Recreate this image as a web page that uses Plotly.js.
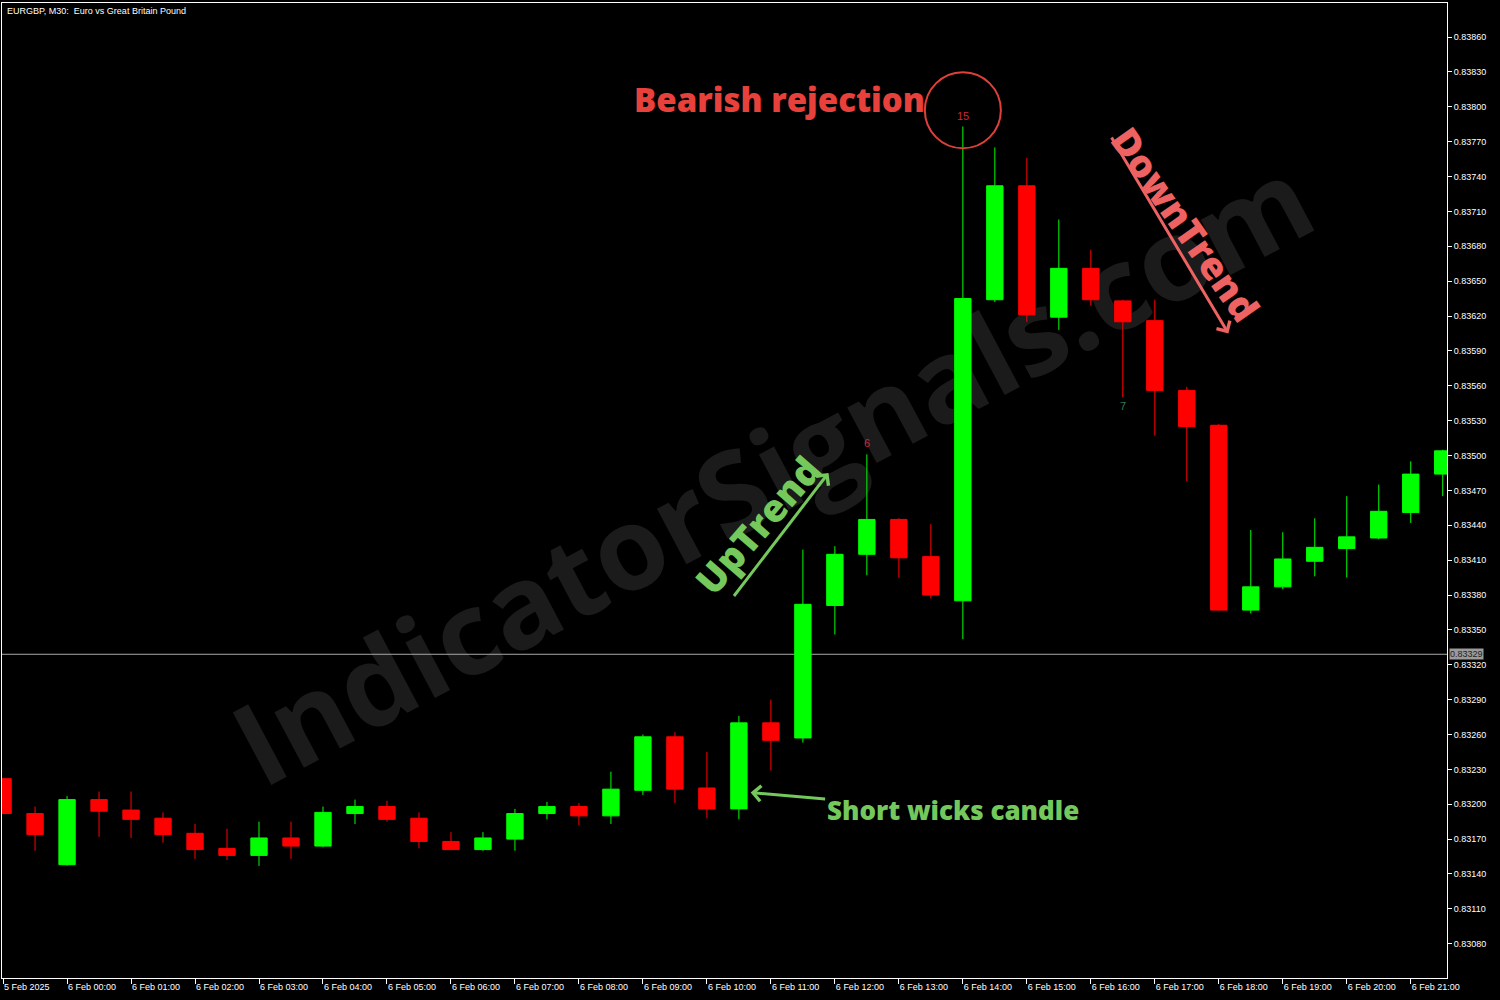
<!DOCTYPE html>
<html><head><meta charset="utf-8">
<script src="https://cdn.plot.ly/plotly-3.0.1.min.js"></script>
<style>html,body{margin:0;padding:0;background:#000;}#chart{width:1500px;height:1000px;}</style>
</head><body><div id="chart"></div>
<script>
const times = ['2025-02-05 23:00','2025-02-05 23:30',
 '2025-02-06 00:00','2025-02-06 00:30','2025-02-06 01:00','2025-02-06 01:30',
 '2025-02-06 02:00','2025-02-06 02:30','2025-02-06 03:00','2025-02-06 03:30',
 '2025-02-06 04:00','2025-02-06 04:30','2025-02-06 05:00','2025-02-06 05:30',
 '2025-02-06 06:00','2025-02-06 06:30','2025-02-06 07:00','2025-02-06 07:30',
 '2025-02-06 08:00','2025-02-06 08:30','2025-02-06 09:00','2025-02-06 09:30',
 '2025-02-06 10:00','2025-02-06 10:30','2025-02-06 11:00','2025-02-06 11:30',
 '2025-02-06 12:00','2025-02-06 12:30','2025-02-06 13:00','2025-02-06 13:30',
 '2025-02-06 14:00','2025-02-06 14:30','2025-02-06 15:00','2025-02-06 15:30',
 '2025-02-06 16:00','2025-02-06 16:30','2025-02-06 17:00','2025-02-06 17:30',
 '2025-02-06 18:00','2025-02-06 18:30','2025-02-06 19:00','2025-02-06 19:30',
 '2025-02-06 20:00','2025-02-06 20:30','2025-02-06 21:00','2025-02-06 21:30'];
const openP  = [0.83222,0.83192,0.83148,0.83204,0.83195,0.83188,0.83175,0.83162,0.83156,0.83171,
 0.83164,0.83192,0.83198,0.83188,0.83168,0.83161,0.83170,0.83192,0.83198,0.83190,
 0.83212,0.83258,0.83214,0.83196,0.83270,0.83257,0.83371,0.83415,0.83445,0.83413,
 0.83375,0.83634,0.83732,0.83619,0.83661,0.83633,0.83616,0.83556,0.83526,0.83367,
 0.83387,0.83409,0.83420,0.83429,0.83451,0.83484];
const highP  = [0.83222,0.83198,0.83207,0.83211,0.83211,0.83193,0.83183,0.83179,0.83185,0.83185,
 0.83198,0.83204,0.83203,0.83193,0.83176,0.83176,0.83196,0.83202,0.83201,0.83228,
 0.83260,0.83262,0.83245,0.83276,0.83290,0.83419,0.83422,0.83501,0.83446,0.83441,
 0.83783,0.83765,0.83756,0.83703,0.83677,0.83634,0.83634,0.83559,0.83527,0.83436,
 0.83434,0.83446,0.83465,0.83475,0.83495,0.83505];
const lowP   = [0.83192,0.83160,0.83147,0.83172,0.83171,0.83167,0.83153,0.83152,0.83147,0.83153,
 0.83163,0.83183,0.83185,0.83162,0.83161,0.83160,0.83160,0.83187,0.83182,0.83183,
 0.83208,0.83201,0.83188,0.83187,0.83229,0.83253,0.83346,0.83397,0.83395,0.83377,
 0.83342,0.83632,0.83615,0.83608,0.83629,0.83550,0.83517,0.83478,0.83367,0.83364,
 0.83385,0.83396,0.83395,0.83428,0.83442,0.83465];
const closeP = [0.83192,0.83174,0.83204,0.83194,0.83187,0.83174,0.83161,0.83156,0.83171,0.83164,
 0.83193,0.83198,0.83187,0.83168,0.83161,0.83171,0.83192,0.83198,0.83190,0.83213,
 0.83258,0.83213,0.83196,0.83270,0.83255,0.83372,0.83415,0.83445,0.83412,0.83380,
 0.83635,0.83732,0.83621,0.83661,0.83634,0.83615,0.83556,0.83525,0.83367,0.83387,
 0.83411,0.83421,0.83430,0.83452,0.83484,0.83504];
const tickTimes = ['2025-02-05 23:00','2025-02-06 00:00','2025-02-06 01:00','2025-02-06 02:00',
 '2025-02-06 03:00','2025-02-06 04:00','2025-02-06 05:00','2025-02-06 06:00','2025-02-06 07:00',
 '2025-02-06 08:00','2025-02-06 09:00','2025-02-06 10:00','2025-02-06 11:00','2025-02-06 12:00',
 '2025-02-06 13:00','2025-02-06 14:00','2025-02-06 15:00','2025-02-06 16:00','2025-02-06 17:00',
 '2025-02-06 18:00','2025-02-06 19:00','2025-02-06 20:00','2025-02-06 21:00'];
const tickLabels = ['5 Feb 2025','6 Feb 00:00','6 Feb 01:00','6 Feb 02:00','6 Feb 03:00',
 '6 Feb 04:00','6 Feb 05:00','6 Feb 06:00','6 Feb 07:00','6 Feb 08:00','6 Feb 09:00',
 '6 Feb 10:00','6 Feb 11:00','6 Feb 12:00','6 Feb 13:00','6 Feb 14:00','6 Feb 15:00',
 '6 Feb 16:00','6 Feb 17:00','6 Feb 18:00','6 Feb 19:00','6 Feb 20:00','6 Feb 21:00'];
const priceTicks = [0.83080,0.83110,0.83140,0.83170,0.83200,0.83230,0.83260,0.83290,0.83320,
 0.83350,0.83380,0.83410,0.83440,0.83470,0.83500,0.83530,0.83560,0.83590,0.83620,0.83650,
 0.83680,0.83710,0.83740,0.83770,0.83800,0.83830,0.83860];
const lastPrice = 0.83329;
const chartTitle = 'EURGBP, M30:  Euro vs Great Britain Pound';

const tickFont = {family:'Liberation Sans, Arial, sans-serif', size:9, color:'#ffffff'};
const boldFam = 'Open Sans, Inter, sans-serif';

const trace = {
  type:'candlestick', x:times, open:openP, high:highP, low:lowP, close:closeP,
  increasing:{line:{color:'#00ff00', width:1}, fillcolor:'#00ff00'},
  decreasing:{line:{color:'#ff0000', width:1}, fillcolor:'#ff0000'},
  whiskerwidth:0, hoverinfo:'skip', showlegend:false
};

const layout = {
  width:1500, height:1000,
  paper_bgcolor:'#000000', plot_bgcolor:'#000000',
  margin:{l:2, r:53, t:3, b:22},
  boxgap:0.27,
  showlegend:false, hovermode:false,
  xaxis:{type:'date', range:['2025-02-05 22:59','2025-02-06 21:34'],
    rangeslider:{visible:false}, showgrid:false, zeroline:false,
    showline:true, linecolor:'#ffffff', linewidth:1, mirror:true,
    ticks:'outside', ticklen:5, tickcolor:'#ffffff', tickwidth:1,
    tickmode:'array', tickvals:tickTimes, ticktext:tickLabels,
    ticklabelposition:'outside right', tickfont:tickFont},
  yaxis:{side:'right', range:[0.8305053,0.8388925], showgrid:false, zeroline:false,
    showline:true, linecolor:'#ffffff', linewidth:1, mirror:true,
    ticks:'outside', ticklen:4, tickcolor:'#ffffff', tickwidth:1,
    tickmode:'array', tickvals:priceTicks, ticktext:priceTicks.map(v=>v.toFixed(5)),
    tickfont:tickFont},
  shapes:[
    {type:'rect', xref:'paper', yref:'paper', x0:0.30, x1:0.77, y0:0.30, y1:0.73, layer:'below',
     line:{width:0}, fillcolor:'rgba(0,0,0,0)',
     label:{text:'IndicatorSignals.com', textangle:-28, textposition:'middle center',
            font:{family:boldFam, size:115, weight:700, color:'#1b1b1b'}}},
    {type:'line', xref:'paper', x0:0, x1:1, yref:'y', y0:lastPrice, y1:lastPrice,
     line:{color:'#a8a8a8', width:1}, layer:'below'},
    {type:'circle', xref:'x', yref:'y', xsizemode:'pixel', ysizemode:'pixel',
     xanchor:'2025-02-06 14:00', yanchor:0.83797, x0:-38, x1:38, y0:-38, y1:38,
     line:{color:'#e0403a', width:2}}
  ],
  annotations:[
    {xref:'paper', yref:'paper', x:0.002, y:0.999, xanchor:'left', yanchor:'top', text:chartTitle,
     showarrow:false, font:{family:'Liberation Sans, Arial, sans-serif', size:9, color:'#ffffff'}},
    {xref:'paper', xanchor:'left', x:1, xshift:2, yref:'y', y:lastPrice, text:lastPrice.toFixed(5),
     showarrow:false, bgcolor:'#9a9a9a', borderpad:0,
     font:{family:'Liberation Sans, Arial, sans-serif', size:9, color:'#222222'}},
    {xref:'paper', yref:'paper', x:0.5384, y:0.9015, xanchor:'center', yanchor:'middle',
     text:'Bearish rejection', showarrow:false,
     font:{family:boldFam, size:33, weight:800, color:'#e8413c'}},
    {xref:'x', yref:'y', x:times[30], y:highP[30], yanchor:'bottom', yshift:3, text:'15', showarrow:false,
     font:{family:'Liberation Sans, Arial, sans-serif', size:11, color:'#c8283c'}},
    {xref:'x', yref:'y', x:times[27], y:highP[27], yanchor:'bottom', yshift:3, text:'6', showarrow:false,
     font:{family:'Liberation Sans, Arial, sans-serif', size:11, color:'#c8283c'}},
    {xref:'x', yref:'y', x:times[35], y:lowP[35], yanchor:'top', yshift:-1, text:'7', showarrow:false,
     font:{family:'Liberation Sans, Arial, sans-serif', size:11, color:'#2f7f4f'}},
    {xref:'paper', yref:'paper', x:0.5225, y:0.4646, xanchor:'center', yanchor:'middle',
     text:'UpTrend', showarrow:false, textangle:-49,
     font:{family:boldFam, size:38, weight:800, color:'#74c85c'}},
    {xref:'x', yref:'y', x:'2025-02-06 11:54', y:0.83485, ax:-96, ay:125, text:' ', showarrow:true,
     arrowhead:4, arrowsize:1, arrowwidth:3, arrowcolor:'#74c85c', standoff:0, font:{size:1}},
    {xref:'paper', yref:'paper', x:0.8194, y:0.7733, xanchor:'center', yanchor:'middle',
     text:'DownTrend', showarrow:false, textangle:55,
     font:{family:boldFam, size:38, weight:800, color:'#ee6262'}},
    {xref:'x', yref:'y', x:'2025-02-06 18:09', y:0.83605, ax:-118, ay:-198, text:' ', showarrow:true,
     arrowhead:4, arrowsize:1, arrowwidth:3, arrowcolor:'#ee6262', standoff:0, font:{size:1}},
    {xref:'x', yref:'y', x:'2025-02-06 10:41', y:0.83210, ax:202, ay:17, text:'Short wicks candle',
     showarrow:true, arrowhead:4, arrowsize:1, arrowwidth:3, arrowcolor:'#74c85c', standoff:0,
     font:{family:boldFam, size:26, weight:800, color:'#74c85c'}}
  ]
};

Plotly.newPlot('chart', [trace], layout, {displayModeBar:false, staticPlot:true});
</script>
</body></html>
